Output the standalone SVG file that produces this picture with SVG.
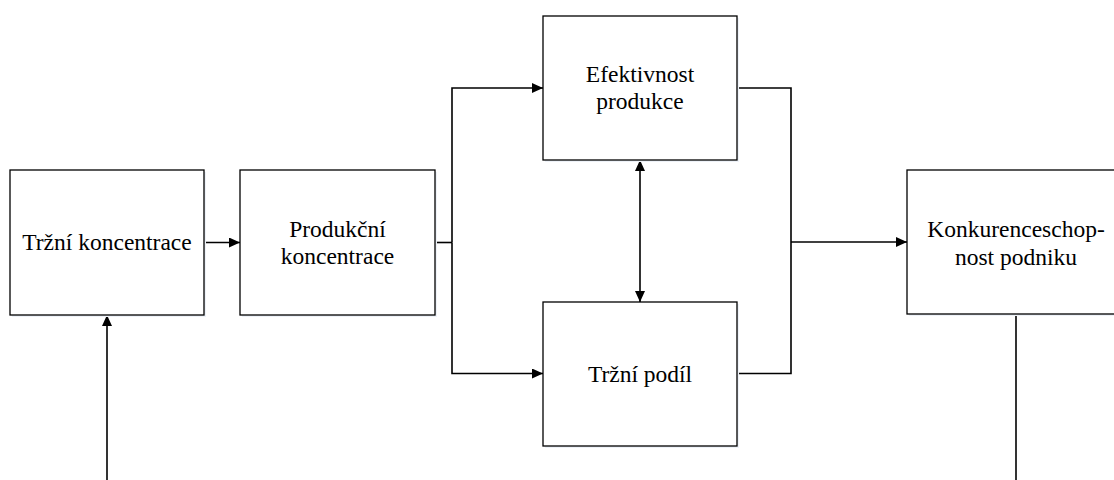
<svg xmlns="http://www.w3.org/2000/svg" width="1114" height="480" viewBox="0 0 1114 480">
<defs>
<marker id="ah" viewBox="0 0 11 10" refX="11" refY="5" markerWidth="11" markerHeight="10" markerUnits="userSpaceOnUse" orient="auto-start-reverse">
<path d="M0,0 L11,5 L0,10 Z" fill="#000"/>
</marker>
</defs>
<style>
.box{fill:#fff;stroke:#000;stroke-width:1.3}
.sh{fill:#eef2f8}
.t{font-family:"Liberation Serif","Times New Roman",serif;font-size:23.5px;fill:#000;text-anchor:middle}
.c{fill:none;stroke:#000;stroke-width:1.6}
</style>
<rect width="1114" height="480" fill="#fff"/>
<g id="connectors">
<path class="c" d="M204,242.5 H240" marker-end="url(#ah)"/>
<path class="c" d="M435,242.5 H452"/>
<path class="c" d="M452,242.5 V88 H543" marker-end="url(#ah)"/>
<path class="c" d="M452,242.5 V373.5 H543" marker-end="url(#ah)"/>
<path class="c" d="M640,160 V302" marker-start="url(#ah)" marker-end="url(#ah)"/>
<path class="c" d="M737,88 H791 V373.5 H737"/>
<path class="c" d="M791,242 H907" marker-end="url(#ah)"/>
<path class="c" d="M1016,314 V480"/>
<path class="c" d="M107,480 V315" marker-end="url(#ah)"/>
</g>
<g id="trzni-koncentrace">
<rect class="sh" x="12" y="172" width="194" height="145"/>
<rect class="box" x="10" y="170" width="194" height="145"/>
<text class="t" x="107" y="250">Tržní koncentrace</text>
</g>
<g id="produkcni-koncentrace">
<rect class="sh" x="242" y="172" width="195" height="145"/>
<rect class="box" x="240" y="170" width="195" height="145"/>
<text class="t" x="337.5" y="237">Produkční</text>
<text class="t" x="337.5" y="264">koncentrace</text>
</g>
<g id="efektivnost-produkce">
<rect class="sh" x="545" y="18" width="194" height="144"/>
<rect class="box" x="543" y="16" width="194" height="144"/>
<text class="t" x="640" y="82">Efektivnost</text>
<text class="t" x="640" y="109">produkce</text>
</g>
<g id="trzni-podil">
<rect class="sh" x="545" y="304" width="194" height="144"/>
<rect class="box" x="543" y="302" width="194" height="144"/>
<text class="t" x="640" y="382">Tržní podíl</text>
</g>
<g id="konkurenceschopnost">
<rect class="sh" x="909" y="172" width="218" height="144"/>
<rect class="box" x="907" y="170" width="218" height="144"/>
<text class="t" x="1016" y="237">Konkurenceschop-</text>
<text class="t" x="1016" y="265">nost podniku</text>
</g>
</svg>
